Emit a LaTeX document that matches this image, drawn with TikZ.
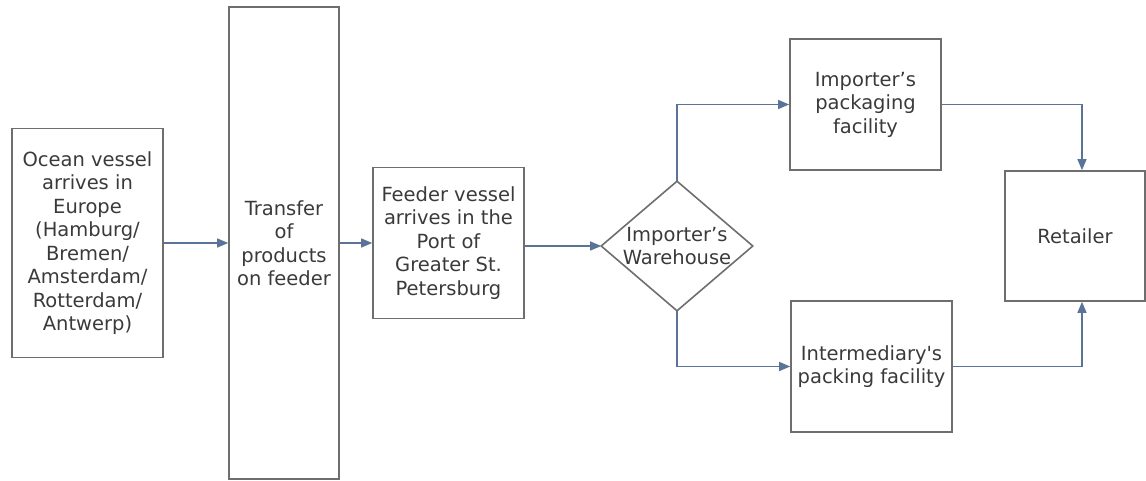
\documentclass[tikz,border=0pt]{standalone}
\usepackage{fontspec}
\setmainfont{DejaVu Sans}
\usepackage{xcolor}
\usetikzlibrary{arrows.meta}
\definecolor{boxline}{HTML}{6E6E6E}
\definecolor{inktext}{HTML}{3A3A3A}
\definecolor{flow}{HTML}{5B7399}

\begin{document}
\begin{tikzpicture}[x=1pt, y=-1pt,
    stage/.style={draw=boxline, line width=1.6pt, align=center, inner sep=0pt,
      text=inktext, font=\fontsize{19.5}{23.5}\selectfont},
    flowline/.style={draw=flow, line width=1.3pt, -{Triangle[length=11pt,width=9pt]}}]
  \useasboundingbox (0,0) rectangle (1146,481);

  % left column of the chain
  \node[stage, minimum width=151pt, minimum height=229pt] (ocean) at (87.5,243)
    {Ocean vessel\\arrives in\\Europe\\(Hamburg/\\Bremen/\\Amsterdam/\\Rotterdam/\\Antwerp)};
  \node[stage, minimum width=110pt, minimum height=472pt] (transfer) at (284,243)
    {Transfer\\of\\products\\on feeder};
  \node[stage, minimum width=151pt, minimum height=151pt] (feeder) at (448.5,243)
    {Feeder vessel\\arrives in the\\Port of\\Greater St.\\Petersburg};

  % warehouse decision
  \node[stage, draw=none, minimum width=150pt, minimum height=128pt] (wh) at (677,246)
    {Importer’s\\Warehouse};
  \draw[boxline, line width=1.6pt] (wh.north) -- (wh.east) -- (wh.south) -- (wh.west) -- cycle;

  % packing and retail
  \node[stage, minimum width=151pt, minimum height=131pt] (pack) at (865.5,104.5)
    {Importer’s\\packaging\\facility};
  \node[stage, minimum width=161pt, minimum height=131pt] (inter) at (871.5,366.5)
    {Intermediary\textquotesingle s\\packing facility};
  \node[stage, minimum width=140pt, minimum height=130pt] (retail) at (1075,236)
    {Retailer};

  \draw[flowline] (ocean) -- (transfer);
  \draw[flowline] (transfer) -- (feeder);
  \draw[flowline] (feeder.east |- wh.west) -- (wh.west);
  \draw[flowline] (wh.north) |- (pack.west);
  \draw[flowline] (wh.south) |- (inter.west);
  \draw[flowline] (pack.east) -| ([xshift=7pt]retail.north);
  \draw[flowline] (inter.east) -| ([xshift=7pt]retail.south);
\end{tikzpicture}
\end{document}
